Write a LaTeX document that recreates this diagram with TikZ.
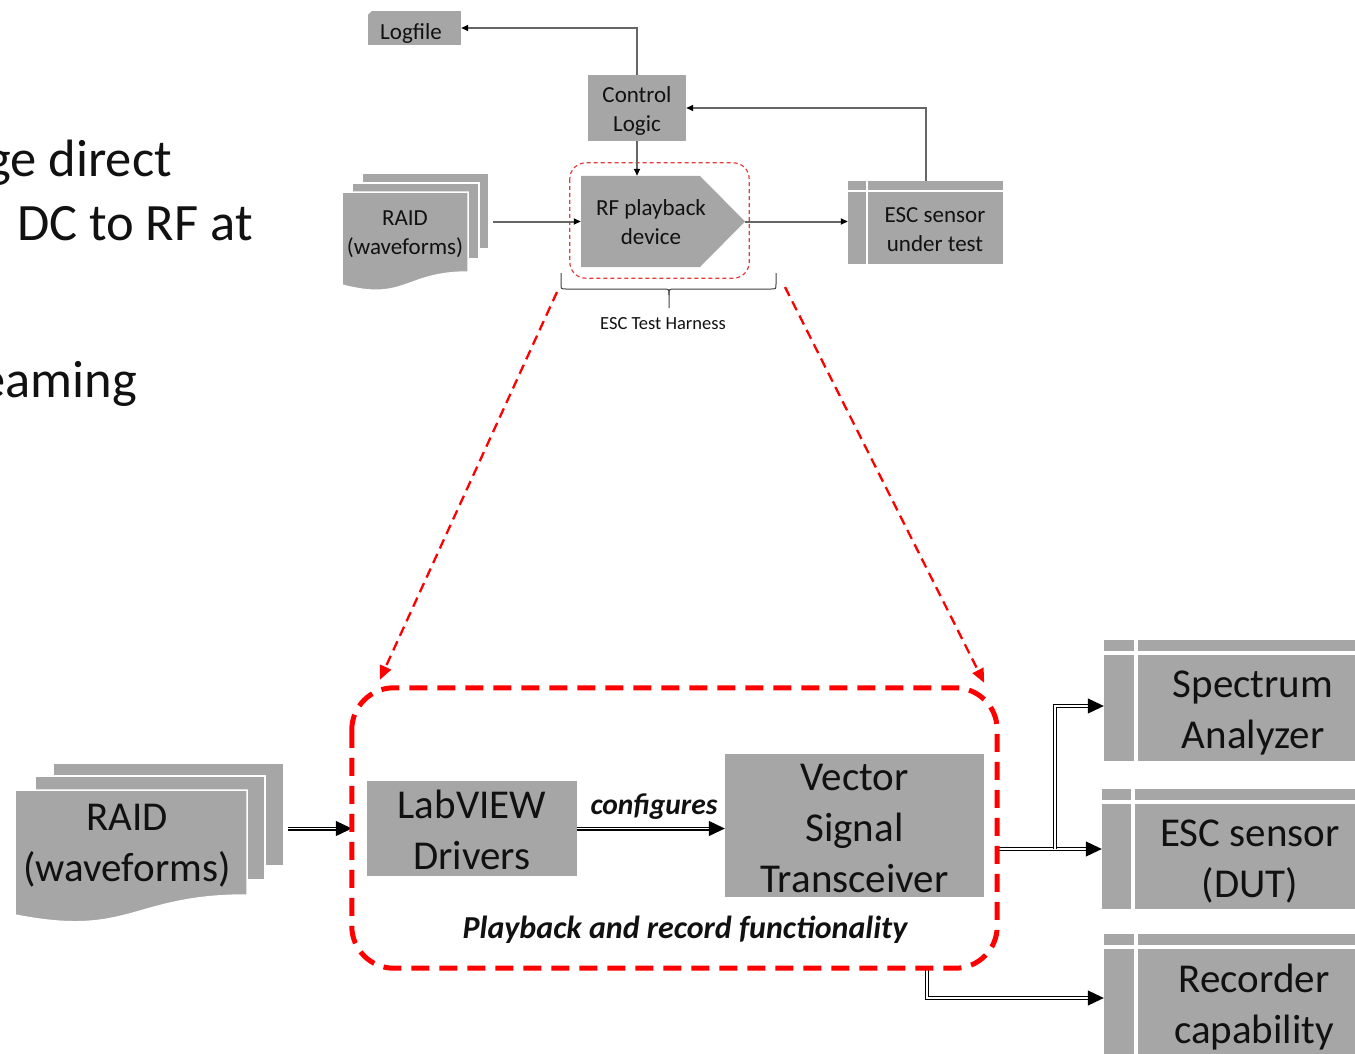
\documentclass[tikz,border=0pt]{standalone}
\usepackage{fontspec}
\setmainfont{Carlito}
\usetikzlibrary{arrows.meta,calc}
\definecolor{boxgray}{HTML}{A6A6A6}
\definecolor{linegray}{HTML}{666666}
\definecolor{harnessred}{HTML}{E03C3C}
\definecolor{bigred}{HTML}{FF0000}
\definecolor{txt}{HTML}{111111}
\begin{document}
\begin{tikzpicture}[x=1pt,y=-1pt,
  gbox/.style={fill=boxgray, draw=none, inner sep=0pt, text=txt},
  sheet/.style={fill=boxgray, draw=white, line width=1.5pt, inner sep=0pt},
  smallfont/.style={font=\fontsize{23}{29}\selectfont, align=center, text=txt, inner sep=0pt},
  bigfont/.style={font=\fontsize{41}{51}\selectfont, align=center, text=txt, inner sep=0pt},
  sidefont/.style={font=\fontsize{52.5}{60}\selectfont, text=txt, inner sep=0pt},
  sarr/.style={draw=linegray, line width=2pt, -{Triangle[length=7pt,width=6pt,color=black]}},
  dbl/.style={draw=black, double=white, double distance=1.8pt, line width=1.1pt, -{Triangle[length=16pt,width=15pt,color=black,fill=black]}},
  redarr/.style={draw=bigred, line width=2.3pt, dash pattern=on 10pt off 6pt, -{Triangle[length=14pt,width=12pt,color=bigred]}},
  whiteline/.style={draw=white, line width=3.5pt}
]
\useasboundingbox (0,0) rectangle (1355,1054);
\clip (0,0) rectangle (1355,1054);

% ---- left text fragments ----
\node[sidefont, anchor=base east] (frag1) at (172,176) {ge direct};
\node[sidefont, anchor=base west] (frag2) at (17,240) {DC to RF at};
\node[sidefont, anchor=base east] (frag3) at (137,397) {eaming};

% ================= TOP DIAGRAM =================
\node[gbox, minimum width=93pt, minimum height=34pt] (logfile) at (414.5,28) {};
\fill[white] (logfile.north west) -- ++(4,0) -- ++(-4,4) -- cycle;
\node[smallfont] (logfilet) at (411,33) {Logfile};
\node[gbox, minimum width=98pt, minimum height=66pt] (ctrl) at (637,108) {};
\node[smallfont] (ctrlt) at (637,111) {Control\\Logic};

% RAID (top)
\node[sheet, minimum width=127pt, minimum height=76pt] (raid1b) at (425.5,211) {};
\node[sheet, minimum width=127pt, minimum height=76pt] (raid1m) at (415.5,221) {};
\path[fill=boxgray, draw=white, line width=1.5pt] (342,192) -- (468,192) -- (468,272) .. controls (405,272) and (405,302) .. (342,285) -- cycle;
\node[smallfont] (raid1) at (405,234.5) {RAID\\(waveforms)};

% RF playback device
\fill[boxgray] (581,176) -- (700,176) -- (745,221.5) -- (700,267) -- (581,267) -- cycle;
\node[minimum width=164pt, minimum height=91pt, inner sep=0pt] (rf) at (663,221.5) {};
\node[smallfont] (rft) at (651,222) {RF playback\\device};

% ESC sensor under test
\node[gbox, minimum width=155pt, minimum height=83pt] (esc1) at (925.5,222.5) {};
\draw[draw=white, line width=2pt] ($(esc1.north west)+(0,10)$) -- ($(esc1.north east)+(0,10)$);
\draw[draw=white, line width=2pt] ($(esc1.north west)+(19,0)$) -- ($(esc1.south west)+(19,0)$);
\node[smallfont] (esc1t) at (935,230) {ESC sensor\\under test};

% harness (top)
\path (659.5,220.5) node[minimum width=179pt, minimum height=115pt, inner sep=0pt] (harness1) {};
\draw[harnessred, line width=1.2pt, dash pattern=on 4pt off 3pt, rounded corners=16pt]
  (harness1.north west) rectangle (harness1.south east);

% connectors (top)
\draw[sarr] (ctrl.north) |- (logfile.east);
\draw[sarr] (ctrl.south) -- (ctrl.south |- rf.north);
\draw[sarr] ($(raid1b.east |- rf.west)+(3,0)$) -- (rf.west);
\draw[sarr] (rf.east) -- (rf.east -| esc1.west);
\draw[sarr] (esc1.north) |- (ctrl.east);

% brace
\draw[draw=black!75, line width=1pt]
  (561,273) -- (561,284) .. controls (561,289) .. (566,289) -- (663,289)
  .. controls (669,289) .. (669,295) -- (669,308);
\draw[draw=black!75, line width=1pt]
  (776,273) -- (776,284) .. controls (776,289) .. (771,289) -- (675,289)
  .. controls (669,289) .. (669,295);
\node[font=\fontsize{18.5}{22}\selectfont, text=txt, inner sep=0pt] (harnesslbl) at (663,324) {ESC Test Harness};

% ================= BOTTOM DIAGRAM =================
% RAID (bottom)
\node[sheet, minimum width=231pt, minimum height=103pt] (raid2b) at (168.5,814.5) {};
\node[sheet, minimum width=230pt, minimum height=104pt] (raid2m) at (150,828) {};
\path[fill=boxgray, draw=white, line width=1.5pt] (15,790) -- (247,790) -- (247,895) .. controls (131,895) and (131,938) .. (15,915) -- cycle;
\node[bigfont] (raid2) at (127,846) {RAID\\(waveforms)};

\node[gbox, minimum width=210pt, minimum height=95pt] (lab) at (472,828.5) {};
\node[bigfont] (labt) at (472,830) {LabVIEW\\Drivers};
\node[gbox, minimum width=259pt, minimum height=143pt] (vst) at (854.5,825.5) {};
\node[bigfont] (vstt) at (854.5,828) {Vector\\Signal\\Transceiver};
\node[font=\fontsize{29.5}{34}\selectfont\bfseries\itshape, text=txt, inner sep=0pt] (cfg) at (654,807) {configures};
\node[font=\fontsize{32}{38}\selectfont\bfseries\itshape, text=txt, inner sep=0pt] (pbt) at (685,930) {Playback and record functionality};

\path (674.5,828) node[minimum width=645pt, minimum height=280pt, inner sep=0pt] (harness2) {};

% right boxes
\node[gbox, minimum width=296pt, minimum height=121pt] (spec) at (1252,700.5) {};
\draw[whiteline] ($(spec.north west)+(0,13)$) -- ($(spec.north east)+(0,13)$);
\draw[whiteline] ($(spec.north west)+(32,0)$) -- ($(spec.south west)+(32,0)$);
\node[bigfont] (spect) at (1253,712.5) {Spectrum\\Analyzer};

\node[gbox, minimum width=296pt, minimum height=120pt] (esc2) at (1250,849) {};
\draw[whiteline] ($(esc2.north west)+(0,13)$) -- ($(esc2.north east)+(0,13)$);
\draw[whiteline] ($(esc2.north west)+(31,0)$) -- ($(esc2.south west)+(31,0)$);
\node[bigfont] (esc2t) at (1250,861.5) {ESC sensor\\(DUT)};

\node[gbox, minimum width=296pt, minimum height=128pt] (rec) at (1252,998) {};
\draw[whiteline] ($(rec.north west)+(0,13)$) -- ($(rec.north east)+(0,13)$);
\draw[whiteline] ($(rec.north west)+(32,0)$) -- ($(rec.south west)+(32,0)$);
\node[bigfont] (rect) at (1254,1007.5) {Recorder\\capability};

% connectors (bottom)
\coordinate (split) at (1055,849);
\coordinate (recsrc) at (927,968);
\draw[dbl] ($(raid2b.east |- lab.west)+(3,0)$) -- (lab.west -| harness2.west);
\draw[dbl] (lab.east) -- (lab.east -| vst.west);
\draw[dbl] (harness2.east |- esc2.west) -- (esc2.west);
\draw[dbl] (split) |- ([yshift=-5.5pt]spec.west);
\draw[dbl] (recsrc) |- (rec.west);

% big dashed harness
\draw[bigred, line width=5pt, dash pattern=on 18pt off 10pt, rounded corners=42pt]
  (harness2.north west) rectangle (harness2.south east);

% zoom arrows
\coordinate (zl) at (557,292);
\coordinate (zr) at (785,287);
\draw[redarr] (zl) -- ($(harness2.north west)+(28,-8)$);
\draw[redarr] (zr) -- ($(harness2.north east)+(-13,-5)$);
\end{tikzpicture}
\end{document}
